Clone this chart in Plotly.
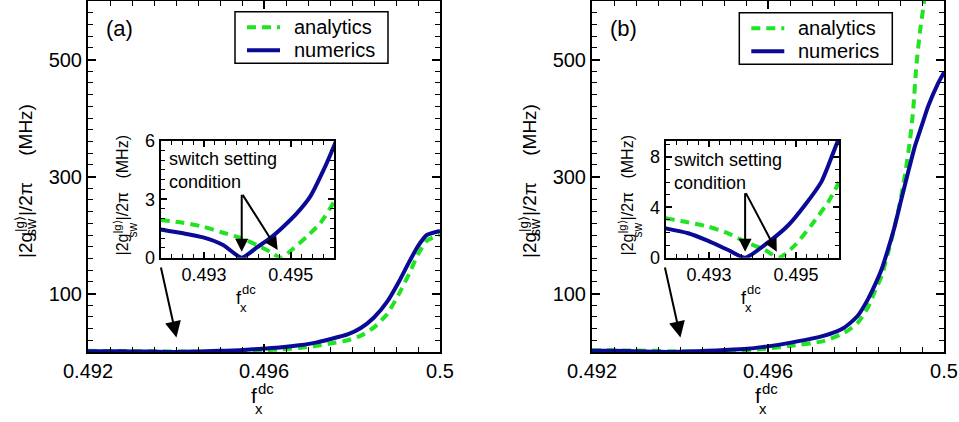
import plotly.graph_objects as go

W, H = 959, 422
FONT = "Liberation Sans, Arial, Helvetica, sans-serif"

# ---------------- data: panel (a) ----------------
xa_num = [0.4920, 0.49252, 0.49298, 0.49344, 0.49387, 0.49422, 0.49452, 0.49483,
          0.49514, 0.49545, 0.49576, 0.49601, 0.4964, 0.4968, 0.4972, 0.4975,
          0.4979, 0.4982, 0.4985, 0.4988, 0.49905, 0.4993, 0.4995, 0.4997, 0.5000]
ya_num = [1.45, 1.25, 1.04, 0.65, 0.0, 0.53, 0.99, 1.59,
          2.27, 3.13, 4.5, 5.78, 8.0, 11.5, 16.5, 22.0,
          30.0, 41.0, 59.0, 86.0, 118.0, 154.0, 181.0, 200.0, 207.0]
xa_ana = [0.4920, 0.49252, 0.49298, 0.49344, 0.49387, 0.49422, 0.49452, 0.49477,
          0.49507, 0.49537, 0.49568, 0.49601, 0.4964, 0.4968, 0.4972, 0.4975,
          0.4979, 0.4982, 0.4985, 0.4988, 0.49905, 0.4993, 0.4995, 0.4997, 0.5000]
ya_ana = [1.93, 1.79, 1.59, 1.28, 0.99, 0.65, 0.31, 0.0,
          0.48, 1.08, 1.76, 2.9, 4.5, 7.0, 10.5, 14.5,
          20.0, 28.0, 42.0, 65.0, 97.0, 134.0, 167.0, 190.0, 201.0]

# ---------------- data: panel (b) ----------------
xb_num = [0.4920, 0.49252, 0.49298, 0.49344, 0.49383, 0.49440, 0.49483,
          0.49521, 0.49559, 0.4959, 0.4960, 0.49652, 0.49728, 0.49774, 0.49804,
          0.49827, 0.49842, 0.49858, 0.49873, 0.49888, 0.49903, 0.49918, 0.49934,
          0.49949, 0.49964, 0.49987, 0.5000]
yb_num = [2.33, 1.94, 1.33, 0.61, 0.0, 1.33, 2.6,
          4.19, 6.05, 8.7, 9.6, 16.0, 28.0, 42.0, 62.0,
          90.0, 113.0, 141.0, 176.0, 215.0, 261.0, 306.0, 352.0,
          386.0, 420.0, 460.0, 478.0]
xb_ana = [0.4920, 0.49252, 0.49298, 0.49344, 0.49383, 0.49429, 0.49461, 0.49498,
          0.49536, 0.49575, 0.49598, 0.49652, 0.49728, 0.49774, 0.49804, 0.49827,
          0.49842, 0.49858, 0.49873, 0.49888, 0.49900, 0.49911, 0.49922, 0.49930,
          0.49937, 0.49945, 0.49955, 0.49962]
yb_ana = [3.13, 2.81, 2.47, 1.94, 1.27, 0.61, 0.0, 1.0,
          2.6, 4.46, 5.9, 10.6, 19.0, 33.0, 50.0, 76.0,
          102.0, 130.0, 170.0, 215.0, 255.0, 301.0, 358.0, 414.0,
          488.0, 545.0, 602.0, 680.0]

# ---------------- ticks / labels ----------------
main_xticks = [0.492, 0.496, 0.5]
main_xticktext = ["0.492", "0.496", "0.5"]
main_yticks = [100, 300, 500]
inset_xticks = [0.493, 0.495]
inset_xticktext = ["0.493", "0.495"]
inset_a_yticks = [0, 3, 6]
inset_b_yticks = [0, 4, 8]
series_names = ["analytics", "numerics"]
panel_labels = ["(a)", "(b)"]

GREEN = "#1fe41f"
BLUE = "#0a0a96"


def px_x(p):
    return p / W


def px_y(p):
    return 1 - p / H


fig = go.Figure()

main_dom_x = [[px_x(88), px_x(440)], [px_x(592), px_x(944)]]
main_dom_y = [px_y(352), px_y(1)]
inset_dom_x = [[px_x(160.7), px_x(334)], [px_x(665.7), px_x(839.3)]]
inset_dom_y = [px_y(257.7), px_y(140.7)]

panels = [(xa_ana, ya_ana, xa_num, ya_num), (xb_ana, yb_ana, xb_num, yb_num)]

GDASH = "9px,6px"
GLINE = dict(color=GREEN, width=4, dash=GDASH, shape="spline", smoothing=0.6)
BLINE = dict(color=BLUE, width=4, shape="spline", smoothing=0.6)

for i, (xan, yan, xnu, ynu) in enumerate(panels):
    mx = "x" if i == 0 else "x2"
    my = "y" if i == 0 else "y2"
    ix = "x3" if i == 0 else "x4"
    iy = "y3" if i == 0 else "y4"
    fig.add_trace(go.Scatter(x=xan, y=yan, xaxis=mx, yaxis=my, mode="lines",
                             name=series_names[0], showlegend=False, line=GLINE))
    fig.add_trace(go.Scatter(x=xnu, y=ynu, xaxis=mx, yaxis=my, mode="lines",
                             name=series_names[1], showlegend=False, line=BLINE))
    fig.add_trace(go.Scatter(x=xan, y=yan, xaxis=ix, yaxis=iy, mode="lines",
                             name=series_names[0], showlegend=False, line=GLINE))
    fig.add_trace(go.Scatter(x=xnu, y=ynu, xaxis=ix, yaxis=iy, mode="lines",
                             name=series_names[1], showlegend=False, line=BLINE))

axis_common = dict(showline=True, linewidth=2, linecolor="black", mirror="allticks",
                   ticks="inside", tickcolor="black", showgrid=False, zeroline=False,
                   fixedrange=True, automargin=False, ticklabeloverflow="allow")

for i in range(2):
    xa = dict(axis_common, domain=main_dom_x[i], range=[0.492, 0.5],
              tickmode="array", tickvals=main_xticks, ticktext=main_xticktext,
              ticklen=8, tickwidth=1.5, tickfont=dict(size=20, family=FONT, color="black"),
              minor=dict(tickmode="linear", tick0=0.492, dtick=0.0005, ticks="inside",
                         ticklen=5, tickwidth=1.2, tickcolor="black"),
              anchor="y" if i == 0 else "y2")
    ya = dict(axis_common, domain=main_dom_y, range=[0, 600],
              tickmode="array", tickvals=main_yticks,
              ticklen=8, tickwidth=1.5, tickfont=dict(size=20, family=FONT, color="black"),
              minor=dict(tickmode="linear", tick0=0, dtick=20, ticks="inside",
                         ticklen=5, tickwidth=1.2, tickcolor="black"),
              anchor="x" if i == 0 else "x2")
    xi = dict(axis_common, domain=inset_dom_x[i], range=[0.492, 0.496],
              tickmode="array", tickvals=inset_xticks, ticktext=inset_xticktext,
              ticklen=6, tickwidth=1.5, tickfont=dict(size=18, family=FONT, color="black"),
              minor=dict(tickmode="linear", tick0=0.492, dtick=0.00025, ticks="inside",
                         ticklen=4, tickwidth=1.2, tickcolor="black"),
              anchor="y3" if i == 0 else "y4")
    yvals = inset_a_yticks if i == 0 else inset_b_yticks
    yi = dict(axis_common, domain=inset_dom_y, range=[0, 6] if i == 0 else [0, 9.3],
              tickmode="array", tickvals=yvals,
              ticklen=6, tickwidth=1.5, tickfont=dict(size=18, family=FONT, color="black"),
              minor=dict(tickmode="linear", tick0=0, dtick=0.5 if i == 0 else 1, ticks="inside",
                         ticklen=4, tickwidth=1.2, tickcolor="black"),
              anchor="x3" if i == 0 else "x4")
    sfx = "" if i == 0 else "2"
    isfx = "3" if i == 0 else "4"
    fig.update_layout(**{"xaxis" + sfx: xa, "yaxis" + sfx: ya,
                         "xaxis" + isfx: xi, "yaxis" + isfx: yi})

annotations = []
shapes = []


def txt(xp, yp, text, size, angle=0, xanchor="center", yanchor="middle"):
    annotations.append(dict(x=px_x(xp), y=px_y(yp), xref="paper", yref="paper",
                            text=text, showarrow=False, textangle=angle,
                            xanchor=xanchor, yanchor=yanchor,
                            font=dict(size=size, family=FONT, color="black")))


def arrow(xr, yr, x0, y0, x1, y1, size=1.3):
    annotations.append(dict(x=x1, y=y1, ax=x0, ay=y0, xref=xr, yref=yr, axref=xr, ayref=yr,
                            text="", showarrow=True, arrowhead=2, arrowsize=size,
                            arrowwidth=2, arrowcolor="black"))


NB = "\u00a0"
YT_MAIN = "|2g<sup>|g⟩</sup>|/2π" + NB * 5 + "(MHz)"
YT_INSET = "|2g<sup>|g⟩</sup>|/2π" + NB * 3 + "(MHz)"

for i in range(2):
    sh = 504 * i
    ish = 505 * i
    txt(119 + sh, 29, panel_labels[i], 22)
    # main x title: f^dc_x
    txt(254 + sh, 395, "f", 21)
    txt(265.5 + sh, 388, "dc", 15)
    txt(258.5 + sh, 408, "x", 15)
    # inset x title
    txt(239 + ish, 297.5, "f", 18)
    txt(249 + ish, 289, "dc", 13)
    txt(243 + ish, 307, "x", 13)
    # main y title (rotated, reads bottom to top)
    txt(24 + sh, 260, YT_MAIN, 19, angle=-90, yanchor="bottom")
    txt(31 + sh, 227, "sw", 14, angle=-90)
    # inset y title
    txt(121 + ish, 258, YT_INSET, 16, angle=-90, yanchor="bottom")
    txt(132.5 + ish, 230, "sw", 12, angle=-90)

    # legend box (drawn by hand to match the original's compact layout)
    lx = 235 + 504.3 * i
    ly = 11.7 + 1.0 * i
    shapes.append(dict(type="rect", xref="paper", yref="paper",
                       x0=px_x(lx), x1=px_x(lx + 153), y0=px_y(ly + 51.5), y1=px_y(ly),
                       line=dict(color="black", width=1.5), fillcolor="white", layer="above"))
    shapes.append(dict(type="line", xref="paper", yref="paper",
                       x0=px_x(lx + 12), x1=px_x(lx + 45), y0=px_y(ly + 15.5), y1=px_y(ly + 15.5),
                       line=dict(color=GREEN, width=4, dash=GDASH), layer="above"))
    shapes.append(dict(type="line", xref="paper", yref="paper",
                       x0=px_x(lx + 12), x1=px_x(lx + 45), y0=px_y(ly + 38.5), y1=px_y(ly + 38.5),
                       line=dict(color=BLUE, width=4), layer="above"))
    txt(lx + 57, ly + 15.5, series_names[0], 20, xanchor="left")
    txt(lx + 57, ly + 38.5, series_names[1], 20, xanchor="left")

    mx = "x" if i == 0 else "x2"
    my = "y" if i == 0 else "y2"
    ix = "x3" if i == 0 else "x4"
    iy = "y3" if i == 0 else "y4"
    arrow(mx, my, 0.49365, 147, 0.49401, 25, size=1.6)
    xnu, ynu = panels[i][2], panels[i][3]
    xmin = xnu[ynu.index(min(ynu))]
    if i == 0:
        arrow(ix, iy, xmin, 3.3, xmin, 0.31)
        arrow(ix, iy, xmin, 3.3, 0.4947, 0.39)
        ty = 4.46
    else:
        arrow(ix, iy, xmin, 5.25, xmin, 0.48)
        arrow(ix, iy, xmin, 5.25, 0.49456, 0.48)
        ty = 6.84
    annotations.append(dict(x=0.49215, y=ty, xref=ix, yref=iy, text="switch setting<br>condition",
                            showarrow=False, xanchor="left", yanchor="middle", align="left",
                            font=dict(size=18, family=FONT, color="black")))

fig.update_layout(
    template="none",
    width=W, height=H,
    margin=dict(l=0, r=0, t=0, b=0, autoexpand=False),
    paper_bgcolor="white", plot_bgcolor="white",
    font=dict(family=FONT, color="black"),
    annotations=annotations,
    shapes=shapes,
    showlegend=False,
)

fig.write_html("out.html", config={"displayModeBar": False},
               post_script="document.body.style.margin='0';")
